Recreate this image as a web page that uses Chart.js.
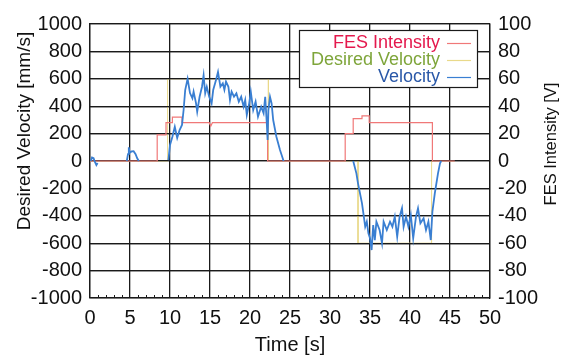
<!DOCTYPE html>
<html><head><meta charset="utf-8">
<script src="https://cdn.jsdelivr.net/npm/chart.js@4/dist/chart.umd.min.js"></script>
<style>html,body{margin:0;padding:0;background:#fff}#wrap{position:relative;width:561px;height:356px}</style>
</head><body><div id="wrap"><canvas id="c" width="561" height="356"></canvas></div>
<script>
// ---- data ----
const timeTicks = [0, 5, 10, 15, 20, 25, 30, 35, 40, 45, 50];
const velocityTicks = [-1000, -800, -600, -400, -200, 0, 200, 400, 600, 800, 1000];
const fesTicks = [-100, -80, -60, -40, -20, 0, 20, 40, 60, 80, 100];
const seriesNames = ['FES Intensity', 'Desired Velocity', 'Velocity'];
const xTitle = 'Time [s]';
const yTitle = 'Desired Velocity [mm/s]';
const y2Title = 'FES Intensity [V]';

// FES intensity [V] (right axis)
const fesT = [0, 8.4, 8.4, 9.5, 9.5, 10.3, 10.3, 11.5, 11.5, 14.9, 15.1, 15.3, 22.2, 22.2, 31.9, 31.9, 32.9, 32.9, 34.0, 34.0, 34.9, 34.9, 42.8, 42.8, 45.6];
const fesV = [0, 0, 19, 19, 28, 28, 32, 32, 28, 28, 25.5, 28, 28, 0, 0, 20, 20, 31, 31, 33, 33, 28, 28, 0, 0];

// Desired velocity [mm/s] (left axis)
const desT = [0, 9.7, 9.7, 22.3, 22.3, 33.5, 33.5, 42.7, 42.7, 45.6];
const desV = [0, 0, 600, 600, 0, 0, -600, -600, 0, 0];

// Measured velocity [mm/s] (left axis); null separates recorded bursts
const velT = [
  0.1, 0.25, 0.45, 0.6, 0.8, 0.95, null,
  4.6, 4.75, 4.85, 4.95, 5.2, 5.45, 5.7, 5.9, 6.1, null,
  9.8, 10.0, 10.3, 10.6, 10.9, 11.2, 11.5, 11.7, 11.9, 12.2, 12.5, 12.8, 12.95, 13.25, 13.4, 13.7, 14.0, 14.2, 14.4, 14.6, 14.9,
  15.2, 15.4, 15.75, 16.0, 16.3, 16.6, 16.8, 17.0, 17.3, 17.5, 17.7, 18.0, 18.3, 18.6, 18.9, 19.2, 19.4, 19.6, 19.9,
  20.1, 20.4, 20.7, 21.0, 21.4, 21.7, 21.9, 22.1, 22.2, 22.3, 22.5, 22.7, 22.9, 23.3, 23.75, 24.2, null,
  32.9, 33.3, 33.5, 33.75, 34.0, 34.2, 34.4, 34.6, 34.8, 35.0, 35.2, 35.4, 35.6, 35.8, 36.2, 36.5, 36.7, 37.1, 37.5,
  37.8, 38.1, 38.4, 38.7, 39.0, 39.2, 39.5, 39.8, 40.1, 40.4, 40.75, 41.0, 41.3, 41.7, 42.0, 42.3, 42.6, 42.8,
  43.1, 43.3, 43.5, 43.75, 43.9
];
const velV = [
  0, 25, 20, -5, -30, -15, null,
  0, 50, 100, 60, 70, 72, 50, 20, 0, null,
  7, 117, 177, 250, 168, 226, 263, 372, 518, 600, 496, 458, 506, 423, 360, 469, 542, 625, 494, 542, 469,
  421, 518, 591, 650, 542, 567, 520, 579, 542, 445, 506, 469, 494, 433, 469, 396, 445, 336, 421,
  506, 372, 433, 323, 396, 348, 469, 275, 153, 372, 469, 421, 299, 177, 80, 0, null,
  0, -90, -163, -236, -309, -394, -480, -443, -528, -564, -650, -467, -577, -443, -504, -600, -443, -504, -443,
  -480, -406, -552, -406, -345, -480, -406, -480, -394, -564, -406, -345, -455, -418, -504, -443, -577, -370,
  -236, -163, -90, -17, 0
];

// ---- styling ----
const FONT = 'Liberation Sans, Arial, sans-serif';
const GRID = '#1a1a1a';
const GRID_W = 1.3;
const colFes = '#f07878', colDes = '#e9d98a', colVel = '#3a7fd2';
const txtFes = '#e4194d', txtDes = '#7ea53a', txtVel = '#2a58a8';

const pts = (T, V) => T.map((t, i) => ({x: t, y: V[i]}));
const velPts = velT.map((t, i) => t === null ? {x: NaN, y: null} : {x: t, y: velV[i]});
const align = (p, w) => Math.round(p - w / 2) + w / 2;

const decor = {
  id: 'decor',
  afterDatasetDraw(chart, args) {
    // desired-velocity trace lies under the black horizontal grid lines
    if (args.index !== 2) return;
    const ctx = chart.ctx, a = chart.chartArea, ys = chart.scales.y;
    ctx.save();
    ctx.strokeStyle = GRID; ctx.lineWidth = GRID_W;
    velocityTicks.forEach(v => {
      const py = align(ys.getPixelForValue(v), GRID_W);
      ctx.beginPath(); ctx.moveTo(a.left, py); ctx.lineTo(a.right, py); ctx.stroke();
    });
    ctx.restore();
  },
  afterDraw(chart) {
    const ctx = chart.ctx, a = chart.chartArea, xs = chart.scales.x;
    ctx.save();
    // minor ticks on bottom axis
    ctx.strokeStyle = GRID; ctx.lineWidth = 1;
    for (let t = 1; t < 50; t++) {
      if (t % 5 === 0) continue;
      const px = Math.round(xs.getPixelForValue(t)) + 0.5;
      ctx.beginPath(); ctx.moveTo(px, a.bottom); ctx.lineTo(px, a.bottom - 3); ctx.stroke();
    }
    // axis titles
    ctx.fillStyle = '#111';
    ctx.textAlign = 'center'; ctx.textBaseline = 'alphabetic';
    ctx.font = '20px ' + FONT;
    ctx.fillText(xTitle, (a.left + a.right) / 2, 351);
    ctx.save(); ctx.translate(25, 131); ctx.rotate(-Math.PI / 2);
    ctx.textBaseline = 'middle'; ctx.font = '19px ' + FONT; ctx.fillText(yTitle, 0, 0); ctx.restore();
    ctx.save(); ctx.translate(551, 144); ctx.rotate(-Math.PI / 2);
    ctx.textBaseline = 'middle'; ctx.font = '16.5px ' + FONT; ctx.fillText(y2Title, 0, 0); ctx.restore();
    // legend
    const bx = 299, by = 30, bw = 178, bh = 57;
    ctx.fillStyle = '#fff'; ctx.fillRect(bx, by, bw, bh);
    ctx.strokeStyle = GRID; ctx.lineWidth = 1.2; ctx.strokeRect(bx + 0.5, by + 0.5, bw, bh);
    const rows = [[seriesNames[0], txtFes, colFes, 43], [seriesNames[1], txtDes, colDes, 60], [seriesNames[2], txtVel, colVel, 77]];
    ctx.font = '18px ' + FONT; ctx.textAlign = 'right'; ctx.textBaseline = 'middle';
    rows.forEach(r => {
      ctx.fillStyle = r[1]; ctx.fillText(r[0], 440, r[3]);
      ctx.strokeStyle = r[2]; ctx.lineWidth = 1.2;
      ctx.beginPath(); ctx.moveTo(447, r[3] + 0.5); ctx.lineTo(471, r[3] + 0.5); ctx.stroke();
    });
    ctx.restore();
  }
};

const tickFont = {family: FONT, size: 20};
const plain = v => String(v);

new Chart(document.getElementById('c'), {
  type: 'line',
  data: {
    datasets: [
      {label: seriesNames[2], data: velPts, yAxisID: 'y', borderColor: colVel, borderWidth: 1.8, pointRadius: 0, spanGaps: false, order: 0},
      {label: seriesNames[0], data: pts(fesT, fesV), yAxisID: 'y2', borderColor: colFes, borderWidth: 1.2, pointRadius: 0, order: 1},
      {label: seriesNames[1], data: pts(desT, desV), yAxisID: 'y', borderColor: colDes, borderWidth: 1, pointRadius: 0, order: 2}
    ]
  },
  options: {
    responsive: false, animation: false, devicePixelRatio: 1,
    layout: {padding: {top: 24, left: 0, right: 0, bottom: 0}},
    plugins: {legend: {display: false}, tooltip: {enabled: false}},
    scales: {
      x: {
        type: 'linear', position: 'bottom', min: 0, max: 50,
        afterBuildTicks: s => { s.ticks = timeTicks.map(v => ({value: v})); },
        afterFit: s => { s.height = 58; },
        ticks: {font: tickFont, color: '#111', padding: 8, maxRotation: 0, autoSkip: false, callback: plain},
        grid: {color: GRID, lineWidth: GRID_W, drawTicks: false},
        border: {color: GRID, width: GRID_W}
      },
      y: {
        position: 'left', min: -1000, max: 1000,
        afterBuildTicks: s => { s.ticks = velocityTicks.map(v => ({value: v})); },
        afterFit: s => { s.width = 90; },
        ticks: {font: tickFont, color: '#111', padding: 8, autoSkip: false, callback: plain},
        grid: {color: GRID, lineWidth: GRID_W, drawTicks: false},
        border: {color: GRID, width: GRID_W}
      },
      y2: {
        position: 'right', min: -100, max: 100,
        afterBuildTicks: s => { s.ticks = fesTicks.map(v => ({value: v})); },
        afterFit: s => { s.width = 71; },
        ticks: {font: tickFont, color: '#111', padding: 8, autoSkip: false, callback: plain},
        grid: {drawOnChartArea: false, drawTicks: false},
        border: {color: GRID, width: GRID_W}
      }
    }
  },
  plugins: [decor]
});
</script></body></html>
